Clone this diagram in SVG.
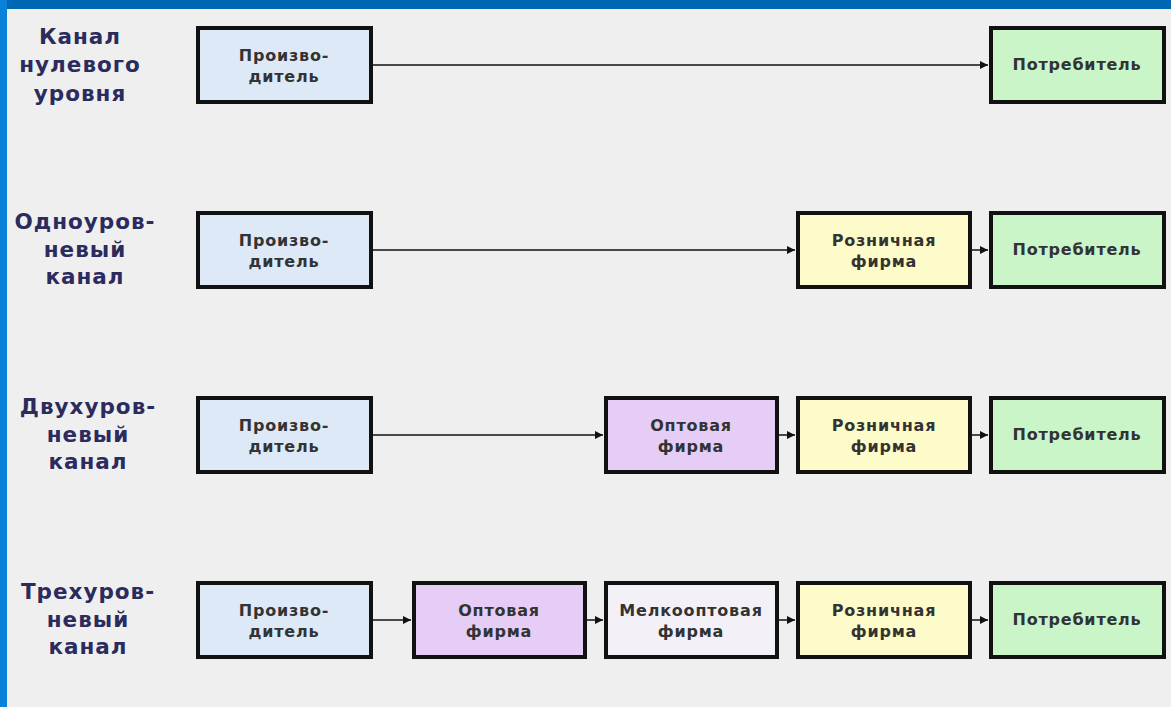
<svg xmlns="http://www.w3.org/2000/svg" width="1171" height="707" viewBox="0 0 1171 707">
<defs>
<style>
.box{stroke:#111;stroke-width:4}
.prod{fill:#dde9f7}
.cons{fill:#c9f5c9}
.ret{fill:#fdfbc9}
.whl{fill:#e6cdf5}
.sml{fill:#f3f1f7}
.t{font-family:"DejaVu Sans","Liberation Sans",Arial,sans-serif;font-weight:bold;font-size:16px;letter-spacing:0.8px;fill:#333;text-anchor:middle}
.lbl{font-family:"DejaVu Sans","Liberation Sans",Arial,sans-serif;font-weight:bold;font-size:21.5px;letter-spacing:1px;fill:#2b2b5e;text-anchor:middle}
.ln{stroke:#111;stroke-width:1.5;fill:none;marker-end:url(#ah)}
</style>
<marker id="ah" viewBox="0 0 10 10" refX="10" refY="5" markerWidth="8" markerHeight="8" markerUnits="userSpaceOnUse" orient="auto">
<path d="M0,0 L10,5 L0,10 z" fill="#111"/>
</marker>
</defs>
<rect x="0" y="0" width="1171" height="707" fill="#efefef"/>
<rect x="0" y="0" width="1171" height="9" fill="#0067b4"/>
<rect x="0" y="0" width="7" height="707" fill="#0a82d9"/>

<g id="labels">
<text class="lbl" x="80" y="44">Канал</text>
<text class="lbl" x="80" y="72">нулевого</text>
<text class="lbl" x="80" y="101">уровня</text>
<text class="lbl" x="85" y="229">Одноуров-</text>
<text class="lbl" x="85" y="257">невый</text>
<text class="lbl" x="85" y="284">канал</text>
<text class="lbl" x="88" y="414">Двухуров-</text>
<text class="lbl" x="88" y="442">невый</text>
<text class="lbl" x="88" y="469">канал</text>
<text class="lbl" x="88" y="599">Трехуров-</text>
<text class="lbl" x="88" y="627">невый</text>
<text class="lbl" x="88" y="654">канал</text>
</g>

<g id="connectors">
<line class="ln" x1="373" y1="65" x2="988" y2="65"/>
<line class="ln" x1="373" y1="250" x2="795" y2="250"/>
<line class="ln" x1="972" y1="250" x2="988" y2="250"/>
<line class="ln" x1="373" y1="435" x2="603" y2="435"/>
<line class="ln" x1="779" y1="435" x2="795" y2="435"/>
<line class="ln" x1="972" y1="435" x2="988" y2="435"/>
<line class="ln" x1="373" y1="620" x2="411" y2="620"/>
<line class="ln" x1="587" y1="620" x2="603" y2="620"/>
<line class="ln" x1="779" y1="620" x2="795" y2="620"/>
<line class="ln" x1="972" y1="620" x2="988" y2="620"/>
</g>

<g id="r1-producer"><rect class="box prod" x="198" y="28" width="173" height="74"/><text class="t" x="284" y="61">Произво-</text><text class="t" x="284" y="82">дитель</text></g>
<g id="r1-consumer"><rect class="box cons" x="991" y="28" width="173" height="74"/><text class="t" x="1077" y="70">Потребитель</text></g>

<g id="r2-producer"><rect class="box prod" x="198" y="213" width="173" height="74"/><text class="t" x="284" y="246">Произво-</text><text class="t" x="284" y="267">дитель</text></g>
<g id="r2-retail"><rect class="box ret" x="798" y="213" width="172" height="74"/><text class="t" x="884" y="246">Розничная</text><text class="t" x="884" y="267">фирма</text></g>
<g id="r2-consumer"><rect class="box cons" x="991" y="213" width="173" height="74"/><text class="t" x="1077" y="255">Потребитель</text></g>

<g id="r3-producer"><rect class="box prod" x="198" y="398" width="173" height="74"/><text class="t" x="284" y="431">Произво-</text><text class="t" x="284" y="452">дитель</text></g>
<g id="r3-wholesale"><rect class="box whl" x="606" y="398" width="171" height="74"/><text class="t" x="691" y="431">Оптовая</text><text class="t" x="691" y="452">фирма</text></g>
<g id="r3-retail"><rect class="box ret" x="798" y="398" width="172" height="74"/><text class="t" x="884" y="431">Розничная</text><text class="t" x="884" y="452">фирма</text></g>
<g id="r3-consumer"><rect class="box cons" x="991" y="398" width="173" height="74"/><text class="t" x="1077" y="440">Потребитель</text></g>

<g id="r4-producer"><rect class="box prod" x="198" y="583" width="173" height="74"/><text class="t" x="284" y="616">Произво-</text><text class="t" x="284" y="637">дитель</text></g>
<g id="r4-wholesale"><rect class="box whl" x="414" y="583" width="171" height="74"/><text class="t" x="499" y="616">Оптовая</text><text class="t" x="499" y="637">фирма</text></g>
<g id="r4-small"><rect class="box sml" x="606" y="583" width="171" height="74"/><text class="t" x="691" y="616">Мелкооптовая</text><text class="t" x="691" y="637">фирма</text></g>
<g id="r4-retail"><rect class="box ret" x="798" y="583" width="172" height="74"/><text class="t" x="884" y="616">Розничная</text><text class="t" x="884" y="637">фирма</text></g>
<g id="r4-consumer"><rect class="box cons" x="991" y="583" width="173" height="74"/><text class="t" x="1077" y="625">Потребитель</text></g>
</svg>
